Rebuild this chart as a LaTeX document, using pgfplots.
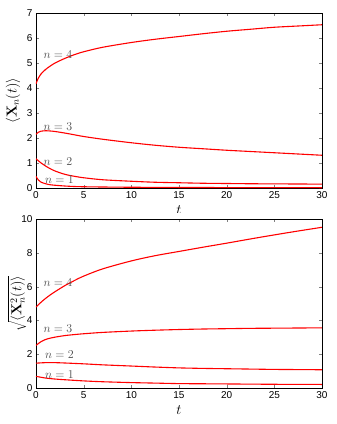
\documentclass[border=0pt]{standalone}
\usepackage{pgfplots}
\pgfplotsset{compat=1.18}
\usepackage[no-math]{fontspec}
\setmainfont{Liberation Sans}

\tikzset{
  nlab/.style={text=black!70, font=\fontsize{13}{14}\selectfont, inner sep=0pt},
  curve/.style={red, line width=1.1pt, smooth, mark=none},
}
\pgfplotsset{
  panel/.style={
    scale only axis, width=286pt,
    xmin=0, xmax=30, xtick={0,5,...,30},
    tick align=inside, major tick length=3pt,
    tick label style={font=\fontsize{10}{12}\selectfont},
    /pgf/number format/assume math mode=true,
    label style={font=\fontsize{14.5}{16}\selectfont},
    xlabel={$t$},
    xlabel style={at={(axis description cs:0.5,0)}, anchor=center, yshift=-22pt},
    ylabel style={at={(axis description cs:-0.08,0.5)}, anchor=center},
  },
}

\begin{document}
\begin{tikzpicture}
\begin{scope}
\clip (-40pt,-24pt) rectangle (310pt,190pt);
\begin{axis}[panel, height=175pt, ymin=0, ymax=7, ytick={0,...,7},
  ylabel={$\langle \mathbf{X}_n(t)\rangle$}]
\addplot[curve] coordinates {(0,4.17) (0.25,4.4) (0.5,4.55) (1,4.74) (1.5,4.88) (2,5.0) (3,5.18) (4,5.33) (5,5.45) (7,5.63) (10,5.82) (12.5,5.95) (15,6.06) (17.5,6.17) (20,6.27) (22.5,6.35) (25,6.43) (27.5,6.48) (30,6.53)};
\addplot[curve] coordinates {(0,2.15) (0.25,2.23) (0.5,2.27) (1,2.29) (1.5,2.28) (2,2.26) (3,2.2) (4,2.13) (5,2.06) (7,1.95) (10,1.81) (12.5,1.71) (15,1.63) (17.5,1.57) (20,1.51) (22.5,1.46) (25,1.41) (27.5,1.36) (30,1.31)};
\addplot[curve] coordinates {(0,1.17) (0.25,1.09) (0.5,1.01) (1,0.88) (1.5,0.77) (2,0.68) (3,0.55) (4,0.47) (5,0.41) (7,0.33) (10,0.27) (12.5,0.23) (15,0.21) (17.5,0.19) (20,0.18) (22.5,0.17) (25,0.165) (27.5,0.16) (30,0.155)};
\addplot[curve] coordinates {(0,0.47) (0.1,0.4) (0.25,0.32) (0.5,0.24) (1,0.17) (1.5,0.13) (2,0.11) (3,0.08) (4,0.06) (5,0.05) (7,0.04) (10,0.03) (15,0.022) (20,0.017) (25,0.014) (30,0.012)};
\node[nlab] at (axis cs:2.3,5.34) {$n=4$};
\node[nlab] at (axis cs:2.3,2.44) {$n=3$};
\node[nlab] at (axis cs:2.3,1.06) {$n=2$};
\node[nlab] at (axis cs:2.45,0.35) {$n=1$};
\end{axis}
\end{scope}

\begin{axis}[panel, at={(0pt,-200pt)}, anchor=south west, height=169pt,
  ymin=0, ymax=10, ytick={0,2,...,10},
  ylabel style={at={(axis description cs:-0.066,0.5)}, font=\fontsize{14}{16}\selectfont},
  ylabel={$\sqrt{\langle \mathbf{X}_n^2(t)\rangle}$}]
\addplot[curve] coordinates {(0,4.79) (0.5,5.06) (1,5.3) (1.5,5.51) (2,5.7) (3,6.05) (4,6.35) (5,6.62) (7,7.05) (10,7.52) (12.5,7.83) (15,8.08) (17.5,8.33) (20,8.57) (22.5,8.82) (25,9.06) (27.5,9.29) (30,9.51)};
\addplot[curve] coordinates {(0,2.52) (0.5,2.73) (1,2.87) (1.5,2.95) (2,3.01) (3,3.1) (4,3.16) (5,3.21) (7,3.29) (10,3.37) (12.5,3.42) (15,3.46) (17.5,3.49) (20,3.51) (22.5,3.53) (25,3.54) (27.5,3.55) (30,3.56)};
\addplot[curve] coordinates {(0,1.47) (1,1.5) (2,1.5) (3,1.48) (5,1.43) (7,1.37) (10,1.3) (12.5,1.24) (15,1.19) (17.5,1.16) (20,1.14) (22.5,1.12) (25,1.1) (27.5,1.09) (30,1.08)};
\addplot[curve] coordinates {(0,0.69) (1,0.59) (2,0.53) (3,0.49) (5,0.42) (7,0.37) (10,0.32) (12.5,0.29) (15,0.26) (17.5,0.25) (20,0.24) (25,0.22) (30,0.21)};
\node[nlab] at (axis cs:2.3,6.22) {$n=4$};
\node[nlab] at (axis cs:2.3,3.5) {$n=3$};
\node[nlab] at (axis cs:2.45,1.96) {$n=2$};
\node[nlab] at (axis cs:2.45,0.78) {$n=1$};
\end{axis}
\pgfresetboundingbox
\path[use as bounding box] (-36pt,-236pt) rectangle (301pt,188pt);
\end{tikzpicture}
\end{document}
